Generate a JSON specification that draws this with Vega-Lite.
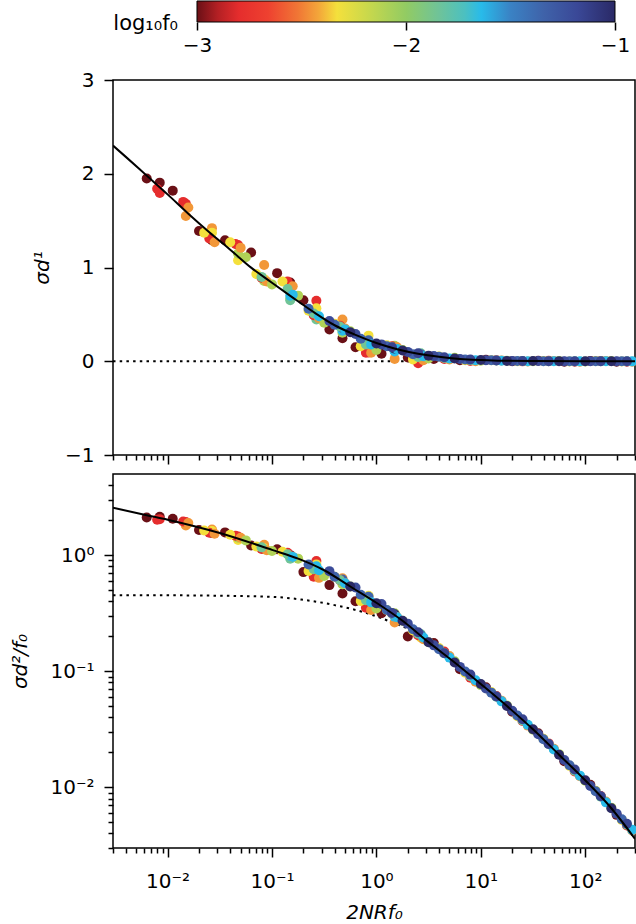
{
  "$schema": "https://vega.github.io/schema/vega-lite/v6.json",
  "padding": {"left": 9, "top": 0, "right": 0, "bottom": 0},
  "background": "white",
  "config": {
    "font": "DejaVu Sans",
    "view": {"stroke": "black", "strokeWidth": 1.5},
    "axis": {"grid": false, "domain": false, "tickColor": "black", "tickWidth": 1.5, "labelColor": "black", "labelFont": "DejaVu Sans", "labelFontSize": 20, "titleFont": "DejaVu Sans", "titleFontSize": 20, "titleFontWeight": "normal", "titleColor": "black", "labelFlush": false, "labelOverlap": false}
  },
  "datasets": {
    "cbar": [{"lo": -3, "hi": -1, "name": "log₁₀f₀"}],
    "zero": [{"x": 0.003, "y": 0}, {"x": 300, "y": 0}],
    "topline": [
      {"x": 0.003, "y": 2.30}, {"x": 0.00398, "y": 2.18}, {"x": 0.00631, "y": 1.98}, {"x": 0.01, "y": 1.78},
      {"x": 0.0158, "y": 1.574}, {"x": 0.0251, "y": 1.376}, {"x": 0.0398, "y": 1.19}, {"x": 0.0631, "y": 0.999},
      {"x": 0.1, "y": 0.837}, {"x": 0.158, "y": 0.679}, {"x": 0.251, "y": 0.524}, {"x": 0.398, "y": 0.384},
      {"x": 0.631, "y": 0.281}, {"x": 1, "y": 0.194}, {"x": 1.58, "y": 0.128}, {"x": 2.51, "y": 0.08},
      {"x": 3.98, "y": 0.047}, {"x": 6.31, "y": 0.025}, {"x": 10, "y": 0.013}, {"x": 15.8, "y": 0.005},
      {"x": 31.6, "y": 0.002}, {"x": 100, "y": 0.0005}, {"x": 300, "y": 0.0001}
    ],
    "botline": [
      {"x": 0.003, "y": 2.56}, {"x": 0.00631, "y": 2.21}, {"x": 0.01, "y": 2.02}, {"x": 0.0316, "y": 1.55},
      {"x": 0.1, "y": 1.11}, {"x": 0.178, "y": 0.933}, {"x": 0.316, "y": 0.741}, {"x": 0.562, "y": 0.537},
      {"x": 1, "y": 0.389}, {"x": 1.78, "y": 0.272}, {"x": 3.16, "y": 0.178}, {"x": 5.62, "y": 0.119},
      {"x": 10, "y": 0.0776}, {"x": 17.8, "y": 0.0501}, {"x": 31.6, "y": 0.0316}, {"x": 56.2, "y": 0.0191},
      {"x": 100, "y": 0.0115}, {"x": 178, "y": 0.0066}, {"x": 300, "y": 0.0036}
    ],
    "botdot": [
      {"x": 0.003, "y": 0.452}, {"x": 0.01, "y": 0.451}, {"x": 0.0316, "y": 0.447}, {"x": 0.1, "y": 0.437},
      {"x": 0.19, "y": 0.415}, {"x": 0.398, "y": 0.371}, {"x": 0.832, "y": 0.314}, {"x": 1.38, "y": 0.266},
      {"x": 2.14, "y": 0.225}, {"x": 3.16, "y": 0.174}, {"x": 5.62, "y": 0.1175}, {"x": 10, "y": 0.0773},
      {"x": 31.6, "y": 0.0316}, {"x": 100, "y": 0.0115}, {"x": 300, "y": 0.0036}
    ],
    "pts": [
      {"x": 0.00841, "s1": 1.905, "s2": 2.138, "lf": -3}, {"x": 0.00841, "s1": 1.795, "s2": 2.042, "lf": -2.8},
      {"x": 0.01496, "s1": 1.68, "s2": 1.928, "lf": -2.8}, {"x": 0.01496, "s1": 1.55, "s2": 1.799, "lf": -2.45},
      {"x": 0.02661, "s1": 1.29, "s2": 1.549, "lf": -3}, {"x": 0.02661, "s1": 1.42, "s2": 1.66, "lf": -2.45},
      {"x": 0.02661, "s1": 1.372, "s2": 1.614, "lf": -2.33},
      {"x": 0.04732, "s1": 1.24, "s2": 1.445, "lf": -2.8}, {"x": 0.04732, "s1": 1.078, "s2": 1.349, "lf": -2.33},
      {"x": 0.04732, "s1": 1.148, "s2": 1.413, "lf": -2.1},
      {"x": 0.08414, "s1": 1.026, "s2": 1.23, "lf": -2.45}, {"x": 0.08414, "s1": 0.876, "s2": 1.148, "lf": -2.33},
      {"x": 0.08414, "s1": 0.856, "s2": 1.122, "lf": -2.1},
      {"x": 0.1496, "s1": 0.84, "s2": 1.0, "lf": -3}, {"x": 0.1496, "s1": 0.67, "s2": 0.955, "lf": -2.1},
      {"x": 0.1496, "s1": 0.65, "s2": 0.933, "lf": -1.85}, {"x": 0.1496, "s1": 0.70, "s2": 0.982, "lf": -1.64},
      {"x": 0.2661, "s1": 0.645, "s2": 0.891, "lf": -2.8}, {"x": 0.2661, "s1": 0.565, "s2": 0.832, "lf": -2.33},
      {"x": 0.2661, "s1": 0.445, "s2": 0.776, "lf": -1.85}, {"x": 0.2661, "s1": 0.485, "s2": 0.802, "lf": -1.64},
      {"x": 0.4732, "s1": 0.245, "s2": 0.468, "lf": -3}, {"x": 0.4732, "s1": 0.445, "s2": 0.631, "lf": -2.45},
      {"x": 0.4732, "s1": 0.305, "s2": 0.562, "lf": -2.1}, {"x": 0.4732, "s1": 0.325, "s2": 0.592, "lf": -1.64},
      {"x": 0.4732, "s1": 0.355, "s2": 0.617, "lf": -1.35},
      {"x": 0.8414, "s1": 0.093, "s2": 0.355, "lf": -2.8}, {"x": 0.8414, "s1": 0.273, "s2": 0.447, "lf": -2.33},
      {"x": 0.8414, "s1": 0.183, "s2": 0.407, "lf": -1.85}, {"x": 0.8414, "s1": 0.223, "s2": 0.437, "lf": -1.35},
      {"x": 1.496, "s1": 0.025, "s2": 0.263, "lf": -2.45}, {"x": 1.496, "s1": 0.165, "s2": 0.316, "lf": -2.1},
      {"x": 1.496, "s1": 0.105, "s2": 0.295, "lf": -1.64}, {"x": 1.496, "s1": 0.135, "s2": 0.309, "lf": -1},
      {"x": 2.661, "s1": 0.005, "s2": 0.195, "lf": -2.33}, {"x": 2.661, "s1": 0.085, "s2": 0.209, "lf": -1.85},
      {"x": 2.661, "s1": 0.075, "s2": 0.205, "lf": -1.35},

      {"x": 0.00631, "s1": 1.95, "s2": 2.11, "lf": -3}, {"x": 0.0112, "s1": 1.82, "s2": 2.06, "lf": -3},
      {"x": 0.02, "s1": 1.39, "s2": 1.644, "lf": -3}, {"x": 0.0355, "s1": 1.29, "s2": 1.57, "lf": -3},
      {"x": 0.0631, "s1": 1.16, "s2": 1.211, "lf": -3}, {"x": 0.112, "s1": 0.94, "s2": 1.122, "lf": -3},
      {"x": 0.2, "s1": 0.65, "s2": 0.714, "lf": -3}, {"x": 0.355, "s1": 0.34, "s2": 0.552, "lf": -3},
      {"x": 0.631, "s1": 0.15, "s2": 0.4, "lf": -3}, {"x": 1.12, "s1": 0.08, "s2": 0.316, "lf": -3},
      {"x": 2.0, "s1": 0.04, "s2": 0.1995, "lf": -3}, {"x": 3.55, "s1": 0.024, "s2": 0.175, "lf": -3},
      {"x": 6.31, "s1": 0.01, "s2": 0.1042, "lf": -3}, {"x": 11.2, "s1": 0.015, "s2": 0.0728, "lf": -3},
      {"x": 20, "s1": 0.0, "s2": 0.0447, "lf": -3}, {"x": 35.5, "s1": 0.005, "s2": 0.0292, "lf": -3},
      {"x": 63.1, "s1": -0.004, "s2": 0.0168, "lf": -3}, {"x": 112, "s1": 0.004, "s2": 0.0105, "lf": -3},
      {"x": 200, "s1": -0.004, "s2": 0.00579, "lf": -3},

      {"x": 0.00794, "s1": 1.84, "s2": 2.02, "lf": -2.8}, {"x": 0.0141, "s1": 1.70, "s2": 1.95, "lf": -2.8},
      {"x": 0.0251, "s1": 1.31, "s2": 1.56, "lf": -2.8}, {"x": 0.0447, "s1": 1.25, "s2": 1.469, "lf": -2.8},
      {"x": 0.0794, "s1": 0.89, "s2": 1.132, "lf": -2.8}, {"x": 0.141, "s1": 0.85, "s2": 1.047, "lf": -2.8},
      {"x": 0.251, "s1": 0.49, "s2": 0.652, "lf": -2.8}, {"x": 0.447, "s1": 0.38, "s2": 0.611, "lf": -2.8},
      {"x": 0.794, "s1": 0.09, "s2": 0.352, "lf": -2.8}, {"x": 1.41, "s1": 0.16, "s2": 0.314, "lf": -2.8},
      {"x": 2.51, "s1": -0.02, "s2": 0.204, "lf": -2.8}, {"x": 4.47, "s1": 0.025, "s2": 0.148, "lf": -2.8},
      {"x": 7.94, "s1": 0.002, "s2": 0.0879, "lf": -2.8}, {"x": 14.1, "s1": 0.011, "s2": 0.0611, "lf": -2.8},
      {"x": 25.1, "s1": -0.001, "s2": 0.0372, "lf": -2.8}, {"x": 44.7, "s1": 0.005, "s2": 0.0239, "lf": -2.8},
      {"x": 79.4, "s1": -0.004, "s2": 0.0137, "lf": -2.8}, {"x": 141, "s1": 0.004, "s2": 0.00843, "lf": -2.8},
      {"x": 251, "s1": -0.004, "s2": 0.00468, "lf": -2.8},

      {"x": 0.0158, "s1": 1.64, "s2": 1.89, "lf": -2.45}, {"x": 0.0282, "s1": 1.27, "s2": 1.53, "lf": -2.45},
      {"x": 0.0501, "s1": 1.21, "s2": 1.413, "lf": -2.45}, {"x": 0.0891, "s1": 0.85, "s2": 1.102, "lf": -2.45},
      {"x": 0.158, "s1": 0.80, "s2": 0.966, "lf": -2.45}, {"x": 0.282, "s1": 0.46, "s2": 0.637, "lf": -2.45},
      {"x": 0.501, "s1": 0.35, "s2": 0.573, "lf": -2.45}, {"x": 0.891, "s1": 0.09, "s2": 0.337, "lf": -2.45},
      {"x": 1.58, "s1": 0.15, "s2": 0.292, "lf": -2.45}, {"x": 2.82, "s1": 0.01, "s2": 0.189, "lf": -2.45},
      {"x": 5.01, "s1": 0.02, "s2": 0.135, "lf": -2.45}, {"x": 8.91, "s1": 0.0, "s2": 0.0811, "lf": -2.45},
      {"x": 15.8, "s1": 0.009, "s2": 0.0558, "lf": -2.45}, {"x": 28.2, "s1": -0.002, "s2": 0.034, "lf": -2.45},
      {"x": 50.1, "s1": 0.004, "s2": 0.0215, "lf": -2.45}, {"x": 89.1, "s1": -0.004, "s2": 0.01245, "lf": -2.45},
      {"x": 158, "s1": 0.004, "s2": 0.00753, "lf": -2.45}, {"x": 282, "s1": -0.004, "s2": 0.00424, "lf": -2.45},

      {"x": 0.0224, "s1": 1.37, "s2": 1.63, "lf": -2.33}, {"x": 0.0398, "s1": 1.27, "s2": 1.50, "lf": -2.33},
      {"x": 0.0708, "s1": 0.93, "s2": 1.189, "lf": -2.33}, {"x": 0.126, "s1": 0.85, "s2": 1.069, "lf": -2.33},
      {"x": 0.224, "s1": 0.54, "s2": 0.731, "lf": -2.33}, {"x": 0.398, "s1": 0.40, "s2": 0.652, "lf": -2.33},
      {"x": 0.708, "s1": 0.16, "s2": 0.402, "lf": -2.33}, {"x": 1.26, "s1": 0.17, "s2": 0.337, "lf": -2.33},
      {"x": 2.24, "s1": 0.02, "s2": 0.224, "lf": -2.33}, {"x": 3.98, "s1": 0.05, "s2": 0.1585, "lf": -2.33},
      {"x": 7.08, "s1": 0.01, "s2": 0.0971, "lf": -2.33}, {"x": 12.6, "s1": 0.012, "s2": 0.0662, "lf": -2.33},
      {"x": 22.4, "s1": 0.0, "s2": 0.041, "lf": -2.33}, {"x": 39.8, "s1": 0.003, "s2": 0.0262, "lf": -2.33},
      {"x": 70.8, "s1": -0.003, "s2": 0.0153, "lf": -2.33}, {"x": 126, "s1": 0.003, "s2": 0.00935, "lf": -2.33},
      {"x": 224, "s1": -0.003, "s2": 0.00524, "lf": -2.33},

      {"x": 0.0562, "s1": 1.11, "s2": 1.34, "lf": -2.1}, {"x": 0.1, "s1": 0.82, "s2": 1.084, "lf": -2.1},
      {"x": 0.178, "s1": 0.70, "s2": 0.933, "lf": -2.1}, {"x": 0.316, "s1": 0.41, "s2": 0.661, "lf": -2.1},
      {"x": 0.562, "s1": 0.32, "s2": 0.537, "lf": -2.1}, {"x": 1, "s1": 0.12, "s2": 0.347, "lf": -2.1},
      {"x": 1.78, "s1": 0.12, "s2": 0.272, "lf": -2.1}, {"x": 3.16, "s1": 0.03, "s2": 0.1778, "lf": -2.1},
      {"x": 5.62, "s1": 0.037, "s2": 0.122, "lf": -2.1}, {"x": 10, "s1": 0.006, "s2": 0.0759, "lf": -2.1},
      {"x": 17.8, "s1": 0.006, "s2": 0.0507, "lf": -2.1}, {"x": 31.6, "s1": 0.0, "s2": 0.0313, "lf": -2.1},
      {"x": 56.2, "s1": 0.002, "s2": 0.0193, "lf": -2.1}, {"x": 100, "s1": -0.002, "s2": 0.0114, "lf": -2.1},
      {"x": 178, "s1": 0.002, "s2": 0.00668, "lf": -2.1},

      {"x": 0.0794, "s1": 0.90, "s2": 1.167, "lf": -1.85}, {"x": 0.141, "s1": 0.77, "s2": 1.016, "lf": -1.85},
      {"x": 0.251, "s1": 0.51, "s2": 0.757, "lf": -1.85}, {"x": 0.447, "s1": 0.37, "s2": 0.611, "lf": -1.85},
      {"x": 0.794, "s1": 0.18, "s2": 0.408, "lf": -1.85}, {"x": 1.41, "s1": 0.15, "s2": 0.314, "lf": -1.85},
      {"x": 2.51, "s1": 0.045, "s2": 0.21, "lf": -1.85}, {"x": 4.47, "s1": 0.035, "s2": 0.143, "lf": -1.85},
      {"x": 7.94, "s1": 0.012, "s2": 0.0906, "lf": -1.85}, {"x": 14.1, "s1": 0.008, "s2": 0.0602, "lf": -1.85},
      {"x": 25.1, "s1": 0.002, "s2": 0.0377, "lf": -1.85}, {"x": 44.7, "s1": 0.001, "s2": 0.0235, "lf": -1.85},
      {"x": 79.4, "s1": -0.001, "s2": 0.0139, "lf": -1.85}, {"x": 141, "s1": 0.001, "s2": 0.00831, "lf": -1.85},
      {"x": 251, "s1": -0.001, "s2": 0.00475, "lf": -1.85},

      {"x": 0.158, "s1": 0.71, "s2": 0.966, "lf": -1.64}, {"x": 0.282, "s1": 0.48, "s2": 0.74, "lf": -1.64},
      {"x": 0.501, "s1": 0.34, "s2": 0.573, "lf": -1.64}, {"x": 0.891, "s1": 0.18, "s2": 0.392, "lf": -1.64},
      {"x": 1.58, "s1": 0.13, "s2": 0.292, "lf": -1.64}, {"x": 2.82, "s1": 0.054, "s2": 0.195, "lf": -1.64},
      {"x": 5.01, "s1": 0.029, "s2": 0.131, "lf": -1.64}, {"x": 8.91, "s1": 0.011, "s2": 0.0836, "lf": -1.64},
      {"x": 15.8, "s1": 0.006, "s2": 0.055, "lf": -1.64}, {"x": 28.2, "s1": 0.001, "s2": 0.0345, "lf": -1.64},
      {"x": 50.1, "s1": 0.001, "s2": 0.0212, "lf": -1.64}, {"x": 89.1, "s1": -0.001, "s2": 0.0126, "lf": -1.64},
      {"x": 158, "s1": 0.001, "s2": 0.00742, "lf": -1.64}, {"x": 282, "s1": -0.001, "s2": 0.0043, "lf": -1.64},

      {"x": 0.224, "s1": 0.56, "s2": 0.83, "lf": -1.35}, {"x": 0.398, "s1": 0.39, "s2": 0.652, "lf": -1.35},
      {"x": 0.708, "s1": 0.24, "s2": 0.456, "lf": -1.35}, {"x": 1.26, "s1": 0.16, "s2": 0.337, "lf": -1.35},
      {"x": 2.24, "s1": 0.076, "s2": 0.23, "lf": -1.35}, {"x": 3.98, "s1": 0.049, "s2": 0.155, "lf": -1.35},
      {"x": 7.08, "s1": 0.018, "s2": 0.0995, "lf": -1.35}, {"x": 12.6, "s1": 0.01, "s2": 0.0654, "lf": -1.35},
      {"x": 22.4, "s1": 0.003, "s2": 0.0415, "lf": -1.35}, {"x": 39.8, "s1": 0.001, "s2": 0.0259, "lf": -1.35},
      {"x": 70.8, "s1": 0.0, "s2": 0.0155, "lf": -1.35}, {"x": 126, "s1": 0.0, "s2": 0.00924, "lf": -1.35},
      {"x": 224, "s1": 0.0, "s2": 0.0053, "lf": -1.35},

      {"x": 0.355, "s1": 0.43, "s2": 0.728, "lf": -1.2}, {"x": 0.631, "s1": 0.29, "s2": 0.527, "lf": -1.2},
      {"x": 1.12, "s1": 0.18, "s2": 0.379, "lf": -1.2}, {"x": 2.0, "s1": 0.10, "s2": 0.257, "lf": -1.2},
      {"x": 3.55, "s1": 0.055, "s2": 0.167, "lf": -1.2}, {"x": 6.31, "s1": 0.025, "s2": 0.109, "lf": -1.2},
      {"x": 11.2, "s1": 0.011, "s2": 0.0711, "lf": -1.2}, {"x": 20, "s1": 0.004, "s2": 0.0457, "lf": -1.2},
      {"x": 35.5, "s1": 0.002, "s2": 0.0286, "lf": -1.2}, {"x": 63.1, "s1": 0.001, "s2": 0.0172, "lf": -1.2},
      {"x": 112, "s1": 0.0, "s2": 0.01028, "lf": -1.2}, {"x": 200, "s1": 0.0, "s2": 0.00593, "lf": -1.2},

      {"x": 1.41, "s1": 0.15, "s2": 0.318, "lf": -1.15}, {"x": 2.51, "s1": 0.085, "s2": 0.217, "lf": -1.15},
      {"x": 4.47, "s1": 0.042, "s2": 0.143, "lf": -1.15}, {"x": 7.94, "s1": 0.018, "s2": 0.0935, "lf": -1.15},
      {"x": 14.1, "s1": 0.008, "s2": 0.0605, "lf": -1.15}, {"x": 25.1, "s1": 0.003, "s2": 0.0386, "lf": -1.15},
      {"x": 44.7, "s1": 0.001, "s2": 0.0236, "lf": -1.15}, {"x": 79.4, "s1": 0.0, "s2": 0.01425, "lf": -1.15},
      {"x": 141, "s1": 0.0, "s2": 0.00836, "lf": -1.15}, {"x": 251, "s1": 0.0, "s2": 0.00486, "lf": -1.15},

      {"x": 0.562, "s1": 0.31, "s2": 0.537, "lf": -1}, {"x": 1, "s1": 0.19, "s2": 0.385, "lf": -1},
      {"x": 1.78, "s1": 0.115, "s2": 0.272, "lf": -1}, {"x": 3.16, "s1": 0.06, "s2": 0.1778, "lf": -1},
      {"x": 5.62, "s1": 0.029, "s2": 0.119, "lf": -1}, {"x": 10, "s1": 0.013, "s2": 0.0776, "lf": -1},
      {"x": 17.8, "s1": 0.004, "s2": 0.0501, "lf": -1}, {"x": 31.6, "s1": 0.002, "s2": 0.0316, "lf": -1},
      {"x": 56.2, "s1": 0.001, "s2": 0.0191, "lf": -1}, {"x": 100, "s1": 0.0, "s2": 0.0115, "lf": -1},
      {"x": 178, "s1": 0.0, "s2": 0.0066, "lf": -1}
    ]
  },
  "spacing": 14,
  "vconcat": [
    {
      "width": 522,
      "height": 21,
      "view": {"stroke": null},
      "data": {"name": "cbar"},
      "layer": [
        {
          "mark": {
            "type": "rect",
            "stroke": "black",
            "strokeWidth": 1,
            "fill": {
              "gradient": "linear", "x1": 0, "y1": 0, "x2": 1, "y2": 0,
              "stops": [
                {"offset": 0, "color": "#6a1016"}, {"offset": 0.05, "color": "#b42024"},
                {"offset": 0.1, "color": "#e52d2d"}, {"offset": 0.17, "color": "#ee4130"},
                {"offset": 0.24, "color": "#f07535"}, {"offset": 0.29, "color": "#f3a53a"},
                {"offset": 0.335, "color": "#f4e03c"}, {"offset": 0.41, "color": "#c8d84c"},
                {"offset": 0.5, "color": "#92cb63"}, {"offset": 0.58, "color": "#6ec39a"},
                {"offset": 0.64, "color": "#4cc0c0"}, {"offset": 0.68, "color": "#28bbea"},
                {"offset": 0.75, "color": "#3a82c4"}, {"offset": 0.83, "color": "#3f62a9"},
                {"offset": 0.91, "color": "#3a4897"}, {"offset": 1, "color": "#2a2966"}
              ]
            }
          },
          "encoding": {
            "x": {"field": "lo", "type": "quantitative", "scale": {"domain": [-3.4019, -0.9043], "nice": false, "zero": false},
                  "axis": {"values": [-3, -2, -1], "tickSize": 8, "labelPadding": 5, "labelExpr": "'−' + abs(datum.value)", "title": null}},
            "x2": {"field": "hi"}
          }
        },
        {
          "mark": {"type": "text", "align": "right", "baseline": "alphabetic", "dx": -19, "dy": 18.5, "fontSize": 21, "font": "DejaVu Sans", "color": "black"},
          "encoding": {
            "x": {"field": "lo", "type": "quantitative"},
            "text": {"field": "name"}
          }
        }
      ]
    },
    {
      "spacing": 7,
      "vconcat": [
        {
          "width": 522,
          "height": 375,
          "resolve": {"axis": {"x": "independent"}},
          "layer": [
            {
              "data": {"name": "zero"},
              "mark": {"type": "line", "color": "black", "strokeWidth": 2, "strokeDash": [2.5, 4.2], "clip": true},
              "encoding": {
                "x": {"field": "x", "type": "quantitative", "scale": {"type": "log", "domain": [0.003, 300], "nice": false},
                      "axis": {"orient": "bottom", "values": [0.003, 0.004, 0.005, 0.006, 0.007, 0.008, 0.009, 0.02, 0.03, 0.04, 0.05, 0.06, 0.07, 0.08, 0.09, 0.2, 0.3, 0.4, 0.5, 0.6, 0.7, 0.8, 0.9, 2, 3, 4, 5, 6, 7, 8, 9, 20, 30, 40, 50, 60, 70, 80, 90, 200, 300], "tickSize": 5, "labels": false, "title": null}},
                "y": {"field": "y", "type": "quantitative", "scale": {"domain": [-1, 3], "nice": false, "zero": false}}
              }
            },
            {
              "data": {"name": "pts"},
              "mark": {"type": "circle", "size": 100, "opacity": 1},
              "encoding": {
                "x": {"field": "x", "type": "quantitative",
                      "axis": {"orient": "bottom", "values": [0.01, 0.1, 1, 10, 100], "tickSize": 9, "labels": false, "title": null}},
                "y": {"field": "s1", "type": "quantitative",
                      "axis": {"values": [-1, 0, 1, 2, 3], "tickSize": 9, "labelPadding": 10, "labelExpr": "datum.value < 0 ? '−' + abs(datum.value) : '' + datum.value", "title": "σd¹", "titleX": -65, "titleBaseline": "alphabetic", "titleFontStyle": "italic"}},
                "color": {"field": "lf", "type": "quantitative", "legend": null,
                          "scale": {"domain": [-3, -2.9, -2.8, -2.66, -2.52, -2.42, -2.33, -2.18, -2.0, -1.84, -1.72, -1.64, -1.5, -1.34, -1.18, -1.0],
                                    "range": ["#6a1016", "#b42024", "#e52d2d", "#ee4130", "#f07535", "#f3a53a", "#f4e03c", "#c8d84c", "#92cb63", "#6ec39a", "#4cc0c0", "#28bbea", "#3a82c4", "#3f62a9", "#3a4897", "#2a2966"],
                                    "interpolate": "rgb"}}
              }
            },
            {
              "data": {"name": "topline"},
              "mark": {"type": "line", "color": "black", "strokeWidth": 2, "interpolate": "monotone", "clip": true},
              "encoding": {
                "x": {"field": "x", "type": "quantitative", "axis": null},
                "y": {"field": "y", "type": "quantitative"}
              }
            }
          ]
        },
        {
          "width": 522,
          "height": 374,
          "resolve": {"axis": {"x": "independent", "y": "independent"}},
          "layer": [
            {
              "data": {"name": "botdot"},
              "mark": {"type": "line", "color": "black", "strokeWidth": 2, "strokeDash": [2.5, 4.2], "interpolate": "monotone", "clip": true},
              "encoding": {
                "x": {"field": "x", "type": "quantitative", "scale": {"type": "log", "domain": [0.003, 300], "nice": false},
                      "axis": {"orient": "bottom", "values": [0.003, 0.004, 0.005, 0.006, 0.007, 0.008, 0.009, 0.02, 0.03, 0.04, 0.05, 0.06, 0.07, 0.08, 0.09, 0.2, 0.3, 0.4, 0.5, 0.6, 0.7, 0.8, 0.9, 2, 3, 4, 5, 6, 7, 8, 9, 20, 30, 40, 50, 60, 70, 80, 90, 200, 300], "tickSize": 5, "labels": false, "title": null}},
                "y": {"field": "y", "type": "quantitative", "scale": {"type": "log", "domain": [0.003, 5], "nice": false},
                      "axis": {"orient": "left", "values": [0.003, 0.004, 0.005, 0.006, 0.007, 0.008, 0.009, 0.02, 0.03, 0.04, 0.05, 0.06, 0.07, 0.08, 0.09, 0.2, 0.3, 0.4, 0.5, 0.6, 0.7, 0.8, 0.9, 2, 3, 4], "tickSize": 5, "labels": false, "title": null}}
              }
            },
            {
              "data": {"name": "pts"},
              "mark": {"type": "circle", "size": 100, "opacity": 1},
              "encoding": {
                "x": {"field": "x", "type": "quantitative",
                      "axis": {"orient": "bottom", "values": [0.01, 0.1, 1, 10, 100], "tickSize": 9, "labelPadding": 14,
                               "labelExpr": "datum.value < 0.05 ? '10⁻²' : datum.value < 0.5 ? '10⁻¹' : datum.value < 5 ? '10⁰' : datum.value < 50 ? '10¹' : '10²'",
                               "title": "2NRf₀", "titleFontStyle": "italic", "titlePadding": 11}},
                "y": {"field": "s2", "type": "quantitative",
                      "axis": {"orient": "left", "values": [0.01, 0.1, 1], "tickSize": 9, "labelPadding": 10,
                               "labelExpr": "datum.value < 0.05 ? '10⁻²' : datum.value < 0.5 ? '10⁻¹' : '10⁰'",
                               "title": "σd²/f₀", "titleX": -87, "titleBaseline": "alphabetic", "titleFontStyle": "italic"}},
                "color": {"field": "lf", "type": "quantitative", "legend": null,
                          "scale": {"domain": [-3, -2.9, -2.8, -2.66, -2.52, -2.42, -2.33, -2.18, -2.0, -1.84, -1.72, -1.64, -1.5, -1.34, -1.18, -1.0],
                                    "range": ["#6a1016", "#b42024", "#e52d2d", "#ee4130", "#f07535", "#f3a53a", "#f4e03c", "#c8d84c", "#92cb63", "#6ec39a", "#4cc0c0", "#28bbea", "#3a82c4", "#3f62a9", "#3a4897", "#2a2966"],
                                    "interpolate": "rgb"}}
              }
            },
            {
              "data": {"name": "botline"},
              "mark": {"type": "line", "color": "black", "strokeWidth": 2, "interpolate": "monotone", "clip": true},
              "encoding": {
                "x": {"field": "x", "type": "quantitative", "axis": null},
                "y": {"field": "y", "type": "quantitative", "axis": null}
              }
            }
          ]
        }
      ]
    }
  ]
}
